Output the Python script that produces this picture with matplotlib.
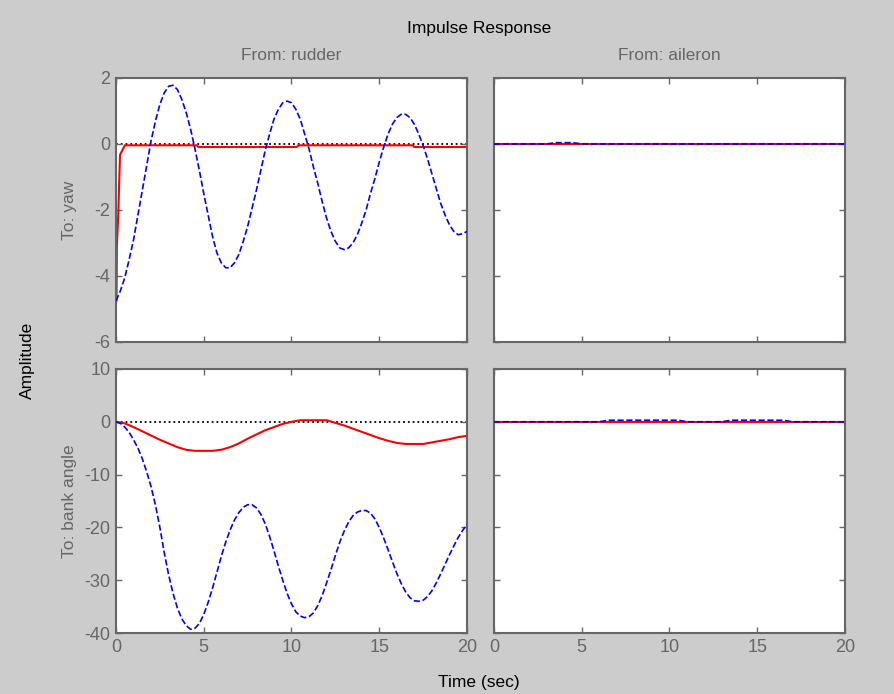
import matplotlib
matplotlib.use("Agg")
import matplotlib.pyplot as plt

plt.rcParams['font.family'] = ['Liberation Sans', 'DejaVu Sans']
plt.rcParams['axes.unicode_minus'] = False

# temps (s)
t = [i * 0.5 for i in range(41)]
t_fine = [i * 0.25 for i in range(81)]

# rudder -> yaw
yaw_rudder_blue = [-4.75, -4.45, -4.05, -3.5, -2.9, -2.15, -1.4, -0.65, 0.1, 0.7,
                   1.2, 1.55, 1.75, 1.78, 1.65, 1.35, 0.95, 0.45, -0.15, -0.8,
                   -1.5, -2.15, -2.8, -3.3, -3.6, -3.75, -3.75, -3.6, -3.35, -2.95,
                   -2.5, -1.95, -1.4, -0.8, -0.2, 0.3, 0.75, 1.05, 1.25, 1.3,
                   1.25, 1.05, 0.75, 0.3, -0.15, -0.7, -1.2, -1.75, -2.25, -2.65,
                   -2.95, -3.15, -3.2, -3.15, -3.0, -2.75, -2.4, -2.0, -1.5, -1.05,
                   -0.55, -0.1, 0.3, 0.6, 0.8, 0.9, 0.9, 0.8, 0.6, 0.3,
                   -0.05, -0.45, -0.9, -1.35, -1.8, -2.15, -2.45, -2.65, -2.75, -2.72,
                   -2.65]
t_red_yaw = [0.03, 0.05, 0.13, 0.23, 0.5, 4.6, 4.7, 10.3, 10.4, 16.9, 17.0, 20]
yaw_rudder_red = [-4.75, -3.1, -2.1, -0.33, -0.04, -0.04, -0.09, -0.09, -0.04, -0.04, -0.09, -0.09]

# rudder -> bank angle
bank_rudder_blue = [0, -0.3, -1.0, -2.0, -3.4, -5.0, -7.0, -9.5, -12.3, -15.8,
                    -20.0, -24.8, -29.0, -32.5, -35.3, -37.3, -38.6, -39.3, -39.1, -38.2,
                    -36.5, -34.2, -31.5, -28.5, -25.5, -22.8, -20.5, -18.6, -17.2, -16.2,
                    -15.7, -15.7, -16.3, -17.5, -19.3, -21.7, -24.4, -27.3, -30.0, -32.5,
                    -34.5, -36.0, -36.8, -37.1, -36.9, -36.2, -34.8, -32.9, -30.5, -28.0,
                    -25.3, -22.8, -20.7, -19.0, -17.8, -17.1, -16.8, -16.8, -17.3, -18.4,
                    -20.0, -22.0, -24.2, -26.5, -28.7, -30.6, -32.2, -33.3, -33.9, -34.0,
                    -33.8, -33.1, -32.0, -30.5, -28.8, -27.0, -25.2, -23.5, -21.9, -20.6,
                    -19.4]
bank_rudder_red = [0, -0.3, -1.0, -1.8, -2.6, -3.4, -4.1, -4.8, -5.3, -5.5,
                   -5.5, -5.5, -5.3, -4.8, -4.1, -3.2, -2.4, -1.6, -1.0, -0.4,
                   0.0, 0.3, 0.3, 0.3, 0.3, -0.2, -0.7, -1.3, -1.9, -2.5,
                   -3.1, -3.6, -4.0, -4.2, -4.2, -4.2, -3.9, -3.6, -3.3, -2.9, -2.65]

# aileron -> yaw / bank angle (quasi nuls)
yaw_aileron_blue = [0.04 if 3.2 <= x <= 4.5 else 0.0 for x in t]
yaw_aileron_red = [0.0] * 41
bank_aileron_blue = [0.3 if (6.5 <= x <= 10.5 or 13.5 <= x <= 16.5) else 0.0 for x in t]
bank_aileron_red = [0.0] * 41

xticks = [0, 5, 10, 15, 20]
yticks_top = [-6, -4, -2, 0, 2]
yticks_bot = [-40, -30, -20, -10, 0, 10]

grey = '#666666'
W, H = 895, 694
fig = plt.figure(figsize=(W / 100, H / 100), dpi=100, facecolor='#cccccc')

def box(x0, x1, y0, y1):
    return [x0 / W, (H - y1) / H, (x1 - x0) / W, (y1 - y0) / H]

ax_tl = fig.add_axes(box(116, 467, 78, 342))
ax_tr = fig.add_axes(box(494, 845, 78, 342))
ax_bl = fig.add_axes(box(116, 467, 369, 633))
ax_br = fig.add_axes(box(494, 845, 369, 633))

panels = [
    (ax_tl, t_red_yaw, yaw_rudder_red, t_fine, yaw_rudder_blue, yticks_top),
    (ax_tr, t, yaw_aileron_red, t, yaw_aileron_blue, yticks_top),
    (ax_bl, t, bank_rudder_red, t_fine, bank_rudder_blue, yticks_bot),
    (ax_br, t, bank_aileron_red, t, bank_aileron_blue, yticks_bot),
]

for ax, tr, red, tb, blue, yt in panels:
    ax.axhline(0, color='black', linestyle=':', linewidth=1.3, zorder=1)
    ax.plot(tr, red, color='red', linewidth=1.5, zorder=2)
    ax.plot(tb, blue, color='blue', linestyle='--', linewidth=1.2, zorder=3)
    ax.set_xlim(0, 20)
    ax.set_ylim(yt[0], yt[-1])
    ax.set_xticks(xticks)
    ax.set_yticks(yt)
    ax.tick_params(direction='in', length=4, width=1, color=grey, labelcolor=grey,
                   labelsize=13, top=True, right=True, pad=4)
    for sp in ax.spines.values():
        sp.set_color(grey)
        sp.set_linewidth(1.5)

for ax in (ax_tl, ax_tr):
    ax.set_xticklabels([])
for ax in (ax_tr, ax_br):
    ax.set_yticklabels([])

fig.text(479 / W, 1 - 28 / H, "Impulse Response", ha='center', va='center', fontsize=12.5, color='black')
fig.text(291 / W, 1 - 56 / H, "From: rudder", ha='center', va='center', fontsize=12.5, color=grey)
fig.text(669 / W, 1 - 56 / H, "From: aileron", ha='center', va='center', fontsize=12.5, color=grey)
fig.text(70 / W, 1 - 210 / H, "To: yaw", ha='center', va='center', rotation=90, fontsize=12.5, color=grey)
fig.text(70 / W, 1 - 501 / H, "To: bank angle", ha='center', va='center', rotation=90, fontsize=12.5, color=grey)
fig.text(27 / W, 1 - 360 / H, "Amplitude", ha='center', va='center', rotation=90, fontsize=12.5, color='black')
fig.text(479 / W, 1 - 682 / H, "Time (sec)", ha='center', va='center', fontsize=12.5, color='black')

fig.savefig("out.png", dpi=100, facecolor=fig.get_facecolor())
